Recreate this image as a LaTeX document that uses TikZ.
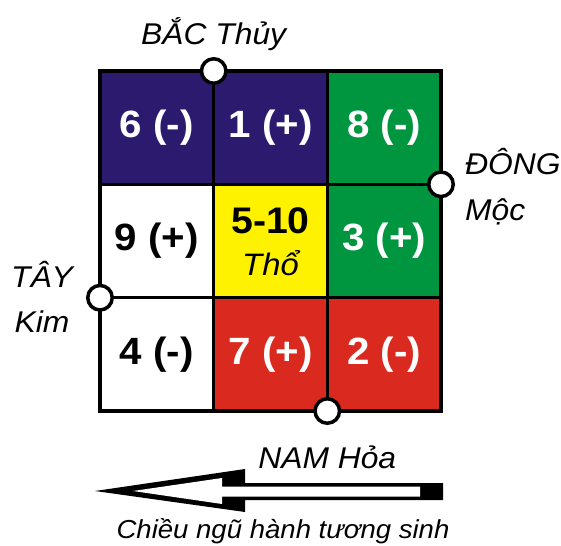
\documentclass[tikz,border=0pt]{standalone}
\usepackage{fontspec}
\setmainfont{Liberation Sans}[FakeStretch=1.06]
\usepackage{tikz}
\definecolor{thuyblue}{HTML}{2B1A6E}
\definecolor{mocgreen}{HTML}{009640}
\definecolor{thoyellow}{HTML}{FFF200}
\definecolor{hoared}{HTML}{DA2A1F}
\tikzset{
  cell/.style={draw=black,line width=3.5pt,minimum width=113.7pt,minimum height=113.3pt,inner sep=0pt,font=\fontsize{38}{40}\selectfont\bfseries},
  port/.style={circle,draw=black,fill=white,line width=3.5pt,minimum size=24.5pt,inner sep=0pt},
  dirlabel/.style={font=\fontsize{30}{32}\selectfont\itshape,inner sep=0pt,anchor=base}
}

\begin{document}
\begin{tikzpicture}[x=1pt,y=-1pt]
  \useasboundingbox (0,0) rectangle (561,545);
  % lo thu grid
  \node[cell,fill=thuyblue,text=white] (c11) at (156.8,127.7) {6 (-)};
  \node[cell,fill=thuyblue,text=white] (c12) at (270.5,127.7) {1 (+)};
  \node[cell,fill=mocgreen,text=white] (c13) at (384.2,127.7) {8 (-)};
  \node[cell,fill=white] (c21) at (156.8,241) {9 (+)};
  \node[cell,fill=thoyellow] (c22) at (270.5,241) {};
  \node[cell,fill=mocgreen,text=white] (c23) at (384.2,241) {3 (+)};
  \node[cell,fill=white] (c31) at (156.8,354.3) {4 (-)};
  \node[cell,fill=hoared,text=white] (c32) at (270.5,354.3) {7 (+)};
  \node[cell,fill=hoared,text=white] (c33) at (384.2,354.3) {2 (-)};
  \node[anchor=base,inner sep=0pt,font=\fontsize{37}{40}\selectfont\bfseries] (num) at (270.5,233) {5-10};
  \node[anchor=base,inner sep=0pt,font=\fontsize{31}{33}\selectfont\itshape] (tho) at (270.5,275) {Thổ};
  % bon huong
  \node[port] (bac) at (213.7,71) {};
  \node[port] (dong) at (441,184.3) {};
  \node[port] (tay) at (100,297.7) {};
  \node[port] (nam) at (327.3,411) {};
  \node[dirlabel] (lblbac) at (213.7,45) {BẮC Thủy};
  \node[dirlabel,anchor=base west] (lbldong) at (465,175) {ĐÔNG};
  \node[dirlabel,anchor=base west] (lblmoc) at (465,220) {Mộc};
  \node[dirlabel] (lbltay) at (42,287) {TÂY};
  \node[dirlabel] (lblkim) at (42,332) {Kim};
  \node[dirlabel] (lblnam) at (327.3,468) {NAM Hỏa};
  % mui ten tuong sinh
  \fill[black] (95,491) -- (245,469) -- (245,483) -- (443,483) -- (443,500)
    -- (245,500) -- (245,512) -- cycle;
  \fill[white] (133,491) -- (222,478) -- (222,486.5) -- (420,486.5) -- (420,496.5)
    -- (222,496.5) -- (222,504) -- cycle;
  \node[dirlabel,font=\fontsize{26}{28}\selectfont\itshape] (chieu) at (283,538) {Chiều ngũ hành tương sinh};
\end{tikzpicture}
\end{document}
